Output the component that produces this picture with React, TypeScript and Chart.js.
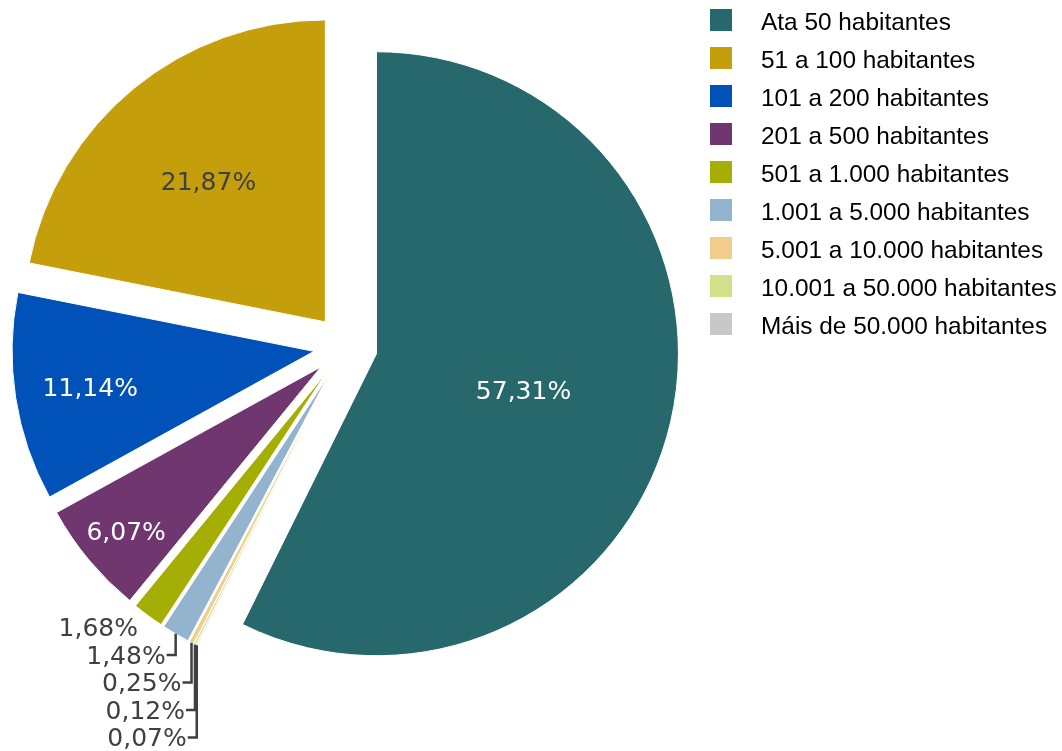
import React, { useEffect, useRef } from "react";
import { Chart, registerables } from "chart.js";

Chart.register(...registerables);

// ---- data (legend order) ----
const categories = [
  "Ata 50 habitantes",
  "51 a 100 habitantes",
  "101 a 200 habitantes",
  "201 a 500 habitantes",
  "501 a 1.000 habitantes",
  "1.001 a 5.000 habitantes",
  "5.001 a 10.000 habitantes",
  "10.001 a 50.000 habitantes",
  "Máis de 50.000 habitantes",
];
const shares = [57.31, 21.87, 11.14, 6.07, 1.68, 1.48, 0.25, 0.12, 0.07];
const colors = [
  "#27686D",
  "#C59F0B",
  "#0052B9",
  "#703670",
  "#A5AE05",
  "#93B4CF",
  "#F0CD8A",
  "#D4DF8A",
  "#C8C8C8",
];
// clockwise drawing order starting at 12 o'clock
const drawOrder = [0, 8, 7, 6, 5, 4, 3, 2, 1];

// ---- style / layout ----
const labelTextColors = ["#FFFFFF", "#404040", "#FFFFFF", "#FFFFFF", "#404040", "#404040", "#404040", "#404040", "#404040"];
const insideLabelRadius = [0.5, 0.61, 0.75, 0.84, 0, 0, 0, 0, 0];
const EXPLODE = 31.8;
const RADIUS = 302;
const INSIDE_MIN = 5;
const LABEL_FONT = '25px "DejaVu Sans", Verdana, sans-serif';
const TEXT_DY_IN = 4;
const TEXT_DY_OUT = 2.5;
const OUT_GAP = 10;
const OUT_FIRST_DY = 11.5;
const OUT_STEP = 27.5;

const fmt = (v: number) => v.toFixed(2).replace(".", ",") + "%";

const explodePlugin = {
  id: "explodeAndLabels",
  beforeDatasetsDraw(chart: any) {
    const meta = chart.getDatasetMeta(0);
    meta.data.forEach((arc: any) => {
      const mid = (arc.startAngle + arc.endAngle) / 2;
      arc.$ox = arc.x;
      arc.$oy = arc.y;
      arc.x = arc.x + Math.cos(mid) * EXPLODE;
      arc.y = arc.y + Math.sin(mid) * EXPLODE;
    });
  },
  afterDatasetsDraw(chart: any) {
    const ctx = chart.ctx as CanvasRenderingContext2D;
    const meta = chart.getDatasetMeta(0);
    meta.data.forEach((arc: any) => {
      arc.x = arc.$ox;
      arc.y = arc.$oy;
    });
    ctx.save();
    ctx.font = LABEL_FONT;
    const small: { cat: number; ox: number; oy: number }[] = [];
    meta.data.forEach((arc: any, i: number) => {
      const cat = drawOrder[i];
      const v = shares[cat];
      const mid = (arc.startAngle + arc.endAngle) / 2;
      const dx = Math.cos(mid);
      const dy = Math.sin(mid);
      const r = arc.outerRadius;
      if (v >= INSIDE_MIN) {
        const d = EXPLODE + insideLabelRadius[cat] * r;
        ctx.fillStyle = labelTextColors[cat];
        ctx.textAlign = "center";
        ctx.textBaseline = "middle";
        ctx.fillText(fmt(v), arc.x + dx * d, arc.y + dy * d + TEXT_DY_IN);
      } else {
        small.push({ cat, ox: arc.x + dx * (EXPLODE + r), oy: arc.y + dy * (EXPLODE + r) });
      }
    });
    small.sort((a, b) => a.oy - b.oy);
    let y = -Infinity;
    small.forEach((s) => {
      y = Math.max(s.oy + OUT_FIRST_DY, y + OUT_STEP);
      const right = s.ox - OUT_GAP;
      ctx.fillStyle = labelTextColors[s.cat];
      ctx.textAlign = "right";
      ctx.textBaseline = "middle";
      ctx.fillText(fmt(shares[s.cat]), right, y + TEXT_DY_OUT);
      if (y - s.oy > 14) {
        ctx.strokeStyle = "#404040";
        ctx.lineWidth = 2.5;
        ctx.beginPath();
        ctx.moveTo(right + 1, y + 0.5);
        ctx.lineTo(s.ox, y + 0.5);
        ctx.lineTo(s.ox, s.oy);
        ctx.stroke();
      }
    });
    ctx.restore();
  },
};

export default function App() {
  const canvasRef = useRef<HTMLCanvasElement | null>(null);

  useEffect(() => {
    if (!canvasRef.current) return;
    const chart = new Chart(canvasRef.current, {
      type: "pie",
      data: {
        labels: drawOrder.map((c) => categories[c]),
        datasets: [
          {
            data: drawOrder.map((c) => shares[c]),
            backgroundColor: drawOrder.map((c) => colors[c]),
            borderColor: "#FFFFFF",
            borderWidth: 1,
            offset: 0,
            hoverOffset: 0,
            clip: false as any,
          },
        ],
      },
      options: {
        responsive: false,
        maintainAspectRatio: false,
        animation: false,
        events: [],
        radius: RADIUS,
        layout: { padding: { left: 0, top: 0, right: 371, bottom: 58 } },
        plugins: {
          legend: { display: false },
          tooltip: { enabled: false },
          title: { display: false },
        },
      } as any,
      plugins: [explodePlugin as any],
    });
    return () => chart.destroy();
  }, []);

  return (
    <div
      style={{
        position: "fixed",
        left: 0,
        top: 0,
        width: 1062,
        height: 751,
        background: "#FFFFFF",
        overflow: "hidden",
      }}
    >
      <canvas
        ref={canvasRef}
        width={1062}
        height={751}
        style={{ position: "absolute", left: 0, top: 0, width: 1062, height: 751 }}
      />
      {categories.map((name, i) => (
        <React.Fragment key={name}>
          <div
            style={{
              position: "absolute",
              left: 710,
              top: 9 + 38 * i,
              width: 22,
              height: 22,
              background: colors[i],
            }}
          />
          <div
            style={{
              position: "absolute",
              left: 761,
              top: 20 + 38 * i - 10,
              height: 24,
              lineHeight: "24px",
              fontSize: 24.4,
              fontFamily: '"Liberation Sans", Arial, sans-serif',
              color: "#000000",
              whiteSpace: "nowrap",
            }}
          >
            {name}
          </div>
        </React.Fragment>
      ))}
    </div>
  );
}
